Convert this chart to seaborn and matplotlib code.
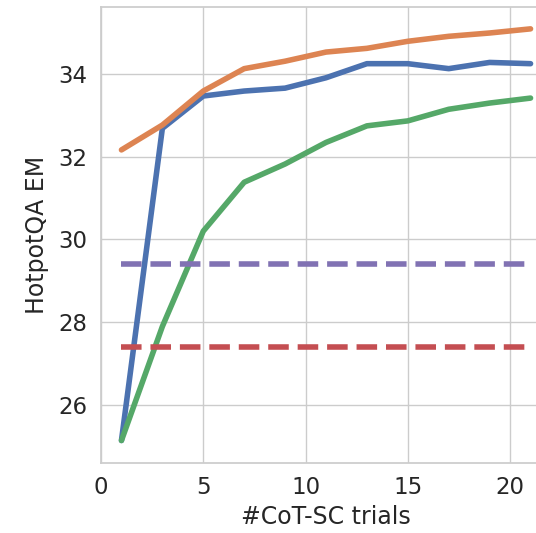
import matplotlib
matplotlib.use("Agg")
import matplotlib.pyplot as plt
import seaborn as sns
import pandas as pd

trials = [1, 3, 5, 7, 9, 11, 13, 15, 17, 19, 21]
blue_vals = [25.15, 32.68, 33.46, 33.58, 33.65, 33.9, 34.24, 34.24, 34.12, 34.27, 34.24]
orange_vals = [32.16, 32.76, 33.58, 34.12, 34.3, 34.52, 34.61, 34.78, 34.9, 34.98, 35.08]
green_vals = [25.15, 27.9, 30.2, 31.38, 31.82, 32.34, 32.74, 32.86, 33.14, 33.29, 33.41]
purple_level = 29.4
red_level = 27.41

sns.set_theme(style="whitegrid", font_scale=1.5)
pal = sns.color_palette("deep")

fig = plt.figure(figsize=(5.36, 5.33), dpi=100)
ax = fig.add_axes([101 / 536, 1 - 463.3 / 533, 450 / 536, (463.3 - 7.3) / 533])

sns.lineplot(x=trials, y=blue_vals, color=pal[0], linewidth=4, ax=ax)
sns.lineplot(x=trials, y=orange_vals, color=pal[1], linewidth=4, ax=ax)
sns.lineplot(x=trials, y=green_vals, color=pal[2], linewidth=4, ax=ax)
sns.lineplot(x=trials, y=[red_level] * len(trials), color=pal[3], linewidth=4, linestyle="--", ax=ax)
sns.lineplot(x=trials, y=[purple_level] * len(trials), color=pal[4], linewidth=4, linestyle="--", ax=ax)

ax.set_xlim(0, 22)
ax.set_ylim(24.6, 35.6)
ax.set_xticks([0, 5, 10, 15, 20])
ax.set_yticks([26, 28, 30, 32, 34])
ax.set_xlabel("#CoT-SC trials", fontsize=17)
ax.set_ylabel("HotpotQA EM", fontsize=17, labelpad=7)

fig.savefig("out.png", dpi=100)
